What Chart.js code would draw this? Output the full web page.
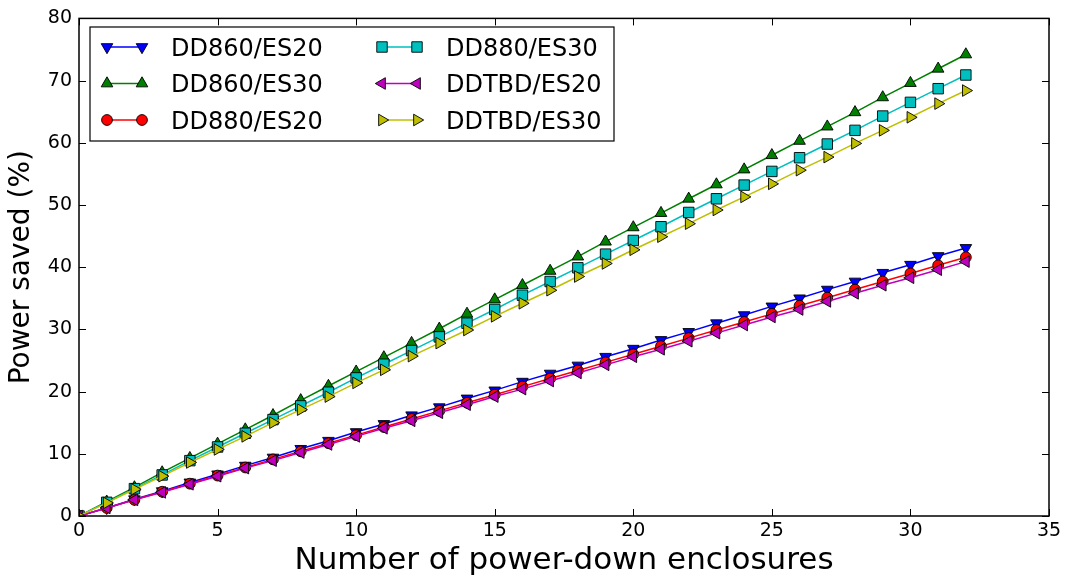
<!DOCTYPE html>
<html>
<head>
<meta charset="utf-8">
<script src="https://cdn.jsdelivr.net/npm/chart.js@4.4.1/dist/chart.umd.min.js"></script>
<style>
html,body{margin:0;padding:0;background:#fff;}
#wrap{width:1069px;height:581px;position:relative;}
</style>
</head>
<body>
<div id="wrap"><canvas id="powerchart"></canvas></div>
<script>
// values
var enclosures=[0,1,2,3,4,5,6,7,8,9,10,11,12,13,14,15,16,17,18,19,20,21,22,23,24,25,26,27,28,29,30,31,32];
var dd860Es20=[0,1.3,2.7,4.0,5.4,6.7,8.1,9.4,10.8,12.1,13.5,14.8,16.2,17.5,18.9,20.2,21.6,22.9,24.2,25.6,26.9,28.3,29.6,31.0,32.3,33.7,35.0,36.4,37.7,39.1,40.4,41.8,43.1];
var dd860Es30=[0,2.3,4.6,7.0,9.3,11.6,13.9,16.2,18.6,20.9,23.2,25.5,27.8,30.1,32.5,34.8,37.1,39.4,41.7,44.1,46.4,48.7,51.0,53.3,55.7,58.0,60.3,62.6,64.9,67.3,69.6,71.9,74.2];
var dd880Es20=[0,1.3,2.6,3.9,5.2,6.5,7.8,9.1,10.4,11.7,13.0,14.3,15.6,16.9,18.2,19.5,20.8,22.1,23.4,24.7,26.0,27.3,28.6,29.9,31.2,32.5,33.8,35.1,36.4,37.7,39.0,40.3,41.6];
var dd880Es30=[0,2.2,4.4,6.6,8.9,11.1,13.3,15.5,17.7,19.9,22.2,24.4,26.6,28.8,31.0,33.2,35.5,37.7,39.9,42.1,44.3,46.5,48.8,51.0,53.2,55.4,57.6,59.8,62.0,64.3,66.5,68.7,70.9];
var ddtbdEs20=[0,1.3,2.6,3.8,5.1,6.4,7.7,8.9,10.2,11.5,12.8,14.1,15.3,16.6,17.9,19.2,20.4,21.7,23.0,24.3,25.6,26.8,28.1,29.4,30.7,32.0,33.2,34.5,35.8,37.1,38.3,39.6,40.9];
var ddtbdEs30=[0,2.1,4.3,6.4,8.6,10.7,12.8,15.0,17.1,19.2,21.4,23.5,25.7,27.8,29.9,32.1,34.2,36.3,38.5,40.6,42.8,44.9,47.0,49.2,51.3,53.4,55.6,57.7,59.9,62.0,64.1,66.3,68.4];
var seriesNames=["DD860/ES20","DD860/ES30","DD880/ES20","DD880/ES30","DDTBD/ES20","DDTBD/ES30"];
var seriesValues=[dd860Es20,dd860Es30,dd880Es20,dd880Es30,ddtbdEs20,ddtbdEs30];
var xTicks=[0,5,10,15,20,25,30,35];
var yTicks=[0,10,20,30,40,50,60,70,80];
var xTitle="Number of power-down enclosures";
var yTitle="Power saved (%)";

// styles
var fontName="'DejaVu Sans'";
var lineColors=["#0000ff","#008000","#ff0000","#00bfbf","#bf00bf","#bfbf00"];
var markStyle=["triangle","triangle","circle","rect","triangle","triangle"];
var markRot=[180,0,0,0,270,90];
var markSize=[6.7,6.7,5.4,7.4,6.7,6.7];

function makeSets(){
	var sets=[];
	for(var i=0;i<seriesValues.length;i++){
		var pts=[];
		for(var k=0;k<enclosures.length;k++){
			pts.push({x:enclosures[k],y:seriesValues[i][k]});
		}
		sets.push({
			label:seriesNames[i],
			data:pts,
			borderColor:lineColors[i],
			backgroundColor:lineColors[i],
			borderWidth:1.5,
			pointStyle:markStyle[i],
			pointRotation:markRot[i],
			pointRadius:markSize[i],
			pointBorderColor:"#000",
			pointBorderWidth:0.9,
			pointBackgroundColor:lineColors[i],
			tension:0,
			clip:0,
			order:seriesValues.length-i
		});
	}
	return sets;
}

// inward ticks on all four sides plus the frame
var framePlugin={
	id:'frame',
	afterDatasetsDraw:function(chart){
		var a=chart.chartArea, ctx=chart.ctx, sx=chart.scales.x, sy=chart.scales.y;
		ctx.save();
		ctx.strokeStyle="#000";
		ctx.lineWidth=1;
		ctx.beginPath();
		for(var i=0;i<xTicks.length;i++){
			var px=Math.round(sx.getPixelForValue(xTicks[i]))+0.5;
			ctx.moveTo(px,a.bottom); ctx.lineTo(px,a.bottom-7);
			ctx.moveTo(px,a.top); ctx.lineTo(px,a.top+7);
		}
		for(var j=0;j<yTicks.length;j++){
			var py=Math.round(sy.getPixelForValue(yTicks[j]))+0.5;
			ctx.moveTo(a.left,py); ctx.lineTo(a.left+7,py);
			ctx.moveTo(a.right,py); ctx.lineTo(a.right-7,py);
		}
		ctx.stroke();
		ctx.lineWidth=1.5;
		ctx.strokeRect(a.left,a.top,a.right-a.left,a.bottom-a.top);
		ctx.restore();
	}
};

// two column legend, line with a marker at each end
var legendPlugin={
	id:'boxlegend',
	afterDraw:function(chart){
		var ctx=chart.ctx;
		var bx=90, by=27, bw=524, bh=114;
		var colX=[107,382], rowY=[47,83.5,120];
		ctx.save();
		ctx.fillStyle="#fff";
		ctx.fillRect(bx,by,bw,bh);
		ctx.strokeStyle="#000";
		ctx.lineWidth=1.2;
		ctx.strokeRect(bx,by,bw,bh);
		ctx.font="24px "+fontName;
		ctx.textBaseline="alphabetic";
		ctx.textAlign="left";
		for(var i=0;i<seriesNames.length;i++){
			var cx=colX[Math.floor(i/3)], cy=rowY[i%3];
			ctx.strokeStyle=lineColors[i];
			ctx.lineWidth=1.5;
			ctx.beginPath(); ctx.moveTo(cx,cy); ctx.lineTo(cx+35,cy); ctx.stroke();
			ctx.fillStyle=lineColors[i];
			ctx.strokeStyle="#000";
			ctx.lineWidth=0.9;
			var opt={pointStyle:markStyle[i],rotation:markRot[i],radius:markSize[i],borderWidth:0.9};
			Chart.helpers.drawPoint(ctx,opt,cx,cy);
			Chart.helpers.drawPoint(ctx,opt,cx+35,cy);
			ctx.fillStyle="#000";
			ctx.fillText(seriesNames[i],cx+64,cy+8.7);
		}
		ctx.restore();
	}
};

var ctx2=document.getElementById("powerchart").getContext('2d');
var myChart=new Chart(ctx2,{
	type:'line',
	data:{datasets:makeSets()},
	plugins:[framePlugin,legendPlugin],
	options:{
		responsive:true,
		maintainAspectRatio:false,
		animation:false,
		events:[],
		layout:{padding:{left:0,right:20,top:15,bottom:0}},
		plugins:{legend:{display:false},tooltip:{enabled:false}},
		scales:{
			x:{
				type:'linear',min:0,max:35,
				afterBuildTicks:function(s){ s.ticks=xTicks.map(function(v){return {value:v};}); },
				afterFit:function(s){ s.height=65; },
				grid:{display:false,drawTicks:false},
				border:{display:false},
				ticks:{color:"#000",padding:4,font:{family:fontName,size:19},maxRotation:0},
				title:{display:true,text:xTitle,color:"#000",font:{family:fontName,size:31},padding:{top:0,bottom:1}}
			},
			y:{
				type:'linear',min:0,max:80,
				afterBuildTicks:function(s){ s.ticks=yTicks.map(function(v){return {value:v};}); },
				afterFit:function(s){ s.width=79; },
				grid:{display:false,drawTicks:false},
				border:{display:false},
				ticks:{color:"#000",padding:7,font:{family:fontName,size:19}},
				title:{display:true,text:yTitle,color:"#000",font:{family:fontName,size:28},padding:{top:5,bottom:0}}
			}
		}
	}
});
</script>
</body>
</html>
